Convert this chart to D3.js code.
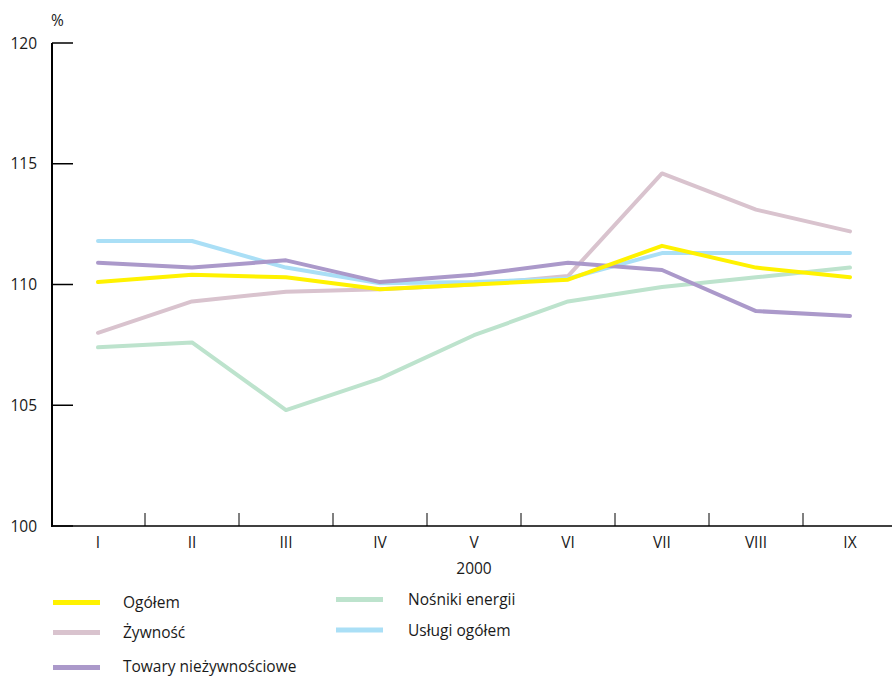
<!DOCTYPE html>
<html>
<head>
<meta charset="utf-8">
<script src="https://cdn.jsdelivr.net/npm/d3@7"></script>
<style>
  html, body { margin: 0; padding: 0; background: #fff; }
  svg { display: block; font-family: "Open Sans", "Noto Sans", sans-serif; }
</style>
</head>
<body>
<svg id="chart" width="892" height="676"></svg>
<script>
const months = ["I", "II", "III", "IV", "V", "VI", "VII", "VIII", "IX"];
const yTicks = [100, 105, 110, 115, 120];
const yearLabel = "2000";
const unitLabel = "%";

const ogolem   = [110.1, 110.4, 110.3, 109.8, 110.0, 110.2, 111.6, 110.7, 110.3];
const zywnosc  = [108.0, 109.3, 109.7, 109.8, 110.0, 110.35, 114.6, 113.1, 112.2];
const towary   = [110.9, 110.7, 111.0, 110.1, 110.4, 110.9, 110.6, 108.9, 108.7];
const nosniki  = [107.4, 107.6, 104.8, 106.1, 107.9, 109.3, 109.9, 110.3, 110.7];
const uslugi   = [111.8, 111.8, 110.7, 110.05, 110.1, 110.25, 111.3, 111.3, 111.3];

const seriesNames  = ["Ogółem", "Żywność", "Towary nieżywnościowe", "Nośniki energii", "Usługi ogółem"];
const seriesValues = [ogolem, zywnosc, towary, nosniki, uslugi];
const seriesColors = ["#fff200", "#d9c3ce", "#ab99ca", "#bde3cd", "#aadff6"];
const drawOrder = [3, 1, 4, 2, 0];

const FS = 15.5;
const svg = d3.select("#chart");
const x = d3.scaleBand().domain(months).range([51, 897]).padding(0);
const y = d3.scaleLinear().domain([100, 120]).range([526, 43]);

// Y axis
svg.append("line").attr("x1", 52).attr("x2", 52).attr("y1", y(120)).attr("y2", y(100) + 1)
  .attr("stroke", "#000").attr("stroke-width", 2);
const yAxis = svg.append("g");
yAxis.selectAll("line.tick").data(yTicks).enter().append("line")
  .attr("x1", 52).attr("x2", 73).attr("y1", d => y(d)).attr("y2", d => y(d))
  .attr("stroke", "#000").attr("stroke-width", 1.5);
yAxis.selectAll("text").data(yTicks).enter().append("text")
  .attr("x", 37).attr("y", d => y(d) + 5.5).attr("text-anchor", "end")
  .attr("font-size", FS).attr("fill", "#1a1a1a").text(d => d);
svg.append("text").attr("x", 51).attr("y", 26).attr("font-size", FS).attr("fill", "#1a1a1a").text(unitLabel);

// X axis
svg.append("line").attr("x1", 52).attr("x2", 892).attr("y1", y(100)).attr("y2", y(100))
  .attr("stroke", "#000").attr("stroke-width", 1.5);
const bounds = months.slice(1).map(m => x(m));
svg.selectAll("line.xt").data(bounds).enter().append("line")
  .attr("x1", d => d).attr("x2", d => d).attr("y1", y(100) - 13).attr("y2", y(100))
  .attr("stroke", "#000").attr("stroke-width", 1);
svg.selectAll("text.xl").data(months).enter().append("text")
  .attr("x", d => x(d) + x.bandwidth() / 2).attr("y", 547.5).attr("text-anchor", "middle")
  .attr("font-size", FS).attr("fill", "#1a1a1a").text(d => d);
svg.append("text").attr("x", x("V") + x.bandwidth() / 2).attr("y", 574).attr("text-anchor", "middle")
  .attr("font-size", FS).attr("fill", "#1a1a1a").text(yearLabel);

// Lines
const line = d3.line().x((d, i) => x(months[i]) + x.bandwidth() / 2).y(d => y(d));
drawOrder.forEach(k => {
  svg.append("path").datum(seriesValues[k]).attr("d", line)
    .attr("fill", "none").attr("stroke", seriesColors[k]).attr("stroke-width", 4)
    .attr("stroke-linejoin", "round").attr("stroke-linecap", "round");
});

// Legend
const legendPos = [
  {lx: 53, ly: 602.5, tx: 123, ty: 608},
  {lx: 53, ly: 632.5, tx: 123, ty: 638},
  {lx: 53, ly: 667.5, tx: 123, ty: 671.5},
  {lx: 336, ly: 599.5, tx: 408, ty: 605},
  {lx: 336, ly: 630, tx: 408, ty: 635.5}
];
seriesNames.forEach((name, i) => {
  const p = legendPos[i];
  svg.append("line").attr("x1", p.lx).attr("x2", p.lx + 47).attr("y1", p.ly).attr("y2", p.ly)
    .attr("stroke", seriesColors[i]).attr("stroke-width", 5);
  svg.append("text").attr("x", p.tx).attr("y", p.ty).attr("font-size", FS).attr("fill", "#1a1a1a").text(name);
});
</script>
</body>
</html>
